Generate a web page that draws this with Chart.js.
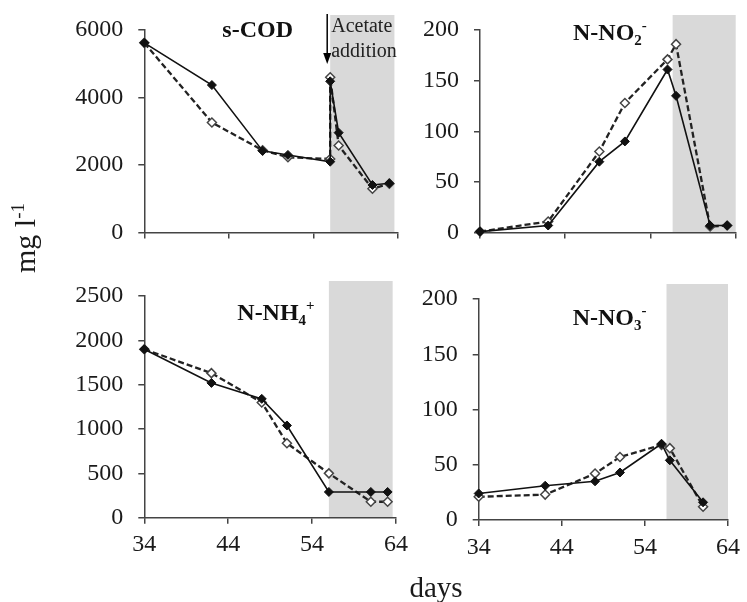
<!DOCTYPE html>
<html>
<head>
<meta charset="utf-8">
<script src="https://cdn.jsdelivr.net/npm/chart.js@4"></script>
<style>
  body { margin: 0; background: #fff; }
  #wrap { position: relative; width: 747px; height: 602px; background: #fff; overflow: hidden; }
  canvas { position: absolute; }
  .lab { position: absolute; font-family: 'Liberation Serif', 'Times New Roman', serif; color: #1a1a1a; white-space: nowrap; }
  #ylab { left: 25px; top: 238px; font-size: 30px; line-height: 30px; transform: translate(-50%, -50%) rotate(-90deg); }
  #ylab sup { font-size: 19px; vertical-align: 11px; line-height: 0; }
  #xlab { left: 436px; top: 573px; font-size: 29px; line-height: 29px; transform: translateX(-50%); }
</style>
</head>
<body>
<div id="wrap">
  <canvas id="cod" width="415" height="262" style="left:0;top:0"></canvas>
  <canvas id="no2" width="337" height="262" style="left:410px;top:0"></canvas>
  <canvas id="nh4" width="415" height="340" style="left:0;top:262px"></canvas>
  <canvas id="no3" width="337" height="340" style="left:410px;top:262px"></canvas>
  <div class="lab" id="ylab">mg l<sup>-1</sup></div>
  <div class="lab" id="xlab">days</div>
</div>
<script>
// x axis (days)
const xTicks = [34, 44, 54, 64];

// s-COD (acetate added on day 56 -> two points that day)
const codDays = [34, 42, 48, 51, 56, 56, 57, 61, 63];
const codSolid = [5620, 4370, 2420, 2300, 2100, 4480, 2960, 1410, 1460];
const codOpen = [5620, 3260, 2440, 2230, 2180, 4600, 2580, 1300, 1450];
const codTicks = [0, 2000, 4000, 6000];

// N-NO2-
const no2Days = [34, 42, 48, 51, 56, 57, 61, 63];
const no2Solid = [1, 7, 70, 90, 161, 135, 7, 7];
const no2Open = [1, 11, 80, 128, 171, 186, 6, 7];
const no2Ticks = [0, 50, 100, 150, 200];

// N-NH4+
const nh4Days = [34, 42, 48, 51, 56, 61, 63];
const nh4Solid = [1900, 1520, 1340, 1040, 290, 290, 290];
const nh4Open = [1900, 1630, 1300, 840, 500, 180, 180];
const nh4Ticks = [0, 500, 1000, 1500, 2000, 2500];

// N-NO3-
const no3Days = [34, 42, 48, 51, 56, 57, 61];
const no3Solid = [24, 31, 35, 43, 69, 54, 16];
const no3Open = [21, 23, 42, 57, 68, 65, 12];
const no3Ticks = [0, 50, 100, 150, 200];

// grey band (days)
const shadeLeft = [56, 63.6];
const shadeRight = [56.6, 64];

Chart.defaults.font.family = "'Liberation Serif', 'Times New Roman', serif";
Chart.defaults.color = '#1a1a1a';

const panelDeco = {
  id: 'panelDeco',
  beforeDraw(chart, args, o) {
    const ctx = chart.ctx, a = chart.chartArea, x = chart.scales.x;
    const x0 = x.getPixelForValue(o.shade[0]);
    const x1 = x.getPixelForValue(o.shade[1]);
    ctx.save();
    ctx.fillStyle = '#d9d9d9';
    ctx.fillRect(x0, a.top - 15, x1 - x0, a.bottom - a.top + 15);
    ctx.restore();
  },
  afterDraw(chart, args, o) {
    const ctx = chart.ctx, a = chart.chartArea, x = chart.scales.x;
    ctx.save();
    ctx.fillStyle = '#111';
    ctx.textBaseline = 'alphabetic';
    let tx = a.left + o.dx, ty = a.top + o.dy;
    o.title.forEach(function(p) {
      ctx.font = p[1] ? "bold 15px 'Liberation Serif', serif" : "bold 24px 'Liberation Serif', serif";
      const yy = p[1] === 1 ? ty + 5 : p[1] === -1 ? ty - 10 : ty;
      ctx.fillText(p[0], tx, yy);
      tx += ctx.measureText(p[0]).width;
    });
    if (o.note) {
      const xa = x.getPixelForValue(56);
      ctx.strokeStyle = '#000';
      ctx.lineWidth = 1.5;
      ctx.beginPath();
      ctx.moveTo(xa - 3, a.top - 16);
      ctx.lineTo(xa - 3, a.top + 26);
      ctx.stroke();
      ctx.beginPath();
      ctx.moveTo(xa - 3, a.top + 34);
      ctx.lineTo(xa - 7, a.top + 23);
      ctx.lineTo(xa + 1, a.top + 23);
      ctx.closePath();
      ctx.fillStyle = '#000';
      ctx.fill();
      ctx.fillStyle = '#222';
      ctx.font = "20px 'Liberation Serif', serif";
      ctx.fillText('Acetate', xa + 1, a.top + 2);
      ctx.fillText('addition', xa + 1, a.top + 27);
    }
    ctx.restore();
  }
};

function pts(days, vals) {
  return days.map(function(d, i) { return {x: d, y: vals[i]}; });
}

function plain(v) { return String(v); }

function panel(id, c) {
  return new Chart(document.getElementById(id), {
    type: 'line',
    data: {
      datasets: [{
        data: pts(c.days, c.solid),
        borderColor: '#111',
        borderWidth: 1.6,
        pointStyle: 'rectRot',
        pointRadius: 4.5,
        pointBackgroundColor: '#111',
        pointBorderColor: '#111',
        pointBorderWidth: 1,
        tension: 0,
        clip: false
      }, {
        data: pts(c.days, c.open),
        borderColor: '#222',
        borderWidth: 2.3,
        borderDash: [6, 3],
        pointStyle: 'rectRot',
        pointRadius: 4.5,
        pointBackgroundColor: '#fff',
        pointBorderColor: '#444',
        pointBorderWidth: 1.5,
        tension: 0,
        clip: false
      }]
    },
    options: {
      responsive: false,
      animation: false,
      devicePixelRatio: 1,
      layout: { padding: { top: c.top, right: c.right, left: 0, bottom: 0 } },
      plugins: {
        legend: { display: false },
        tooltip: { enabled: false },
        panelDeco: { shade: c.shade, title: c.title, dx: c.dx, dy: c.dy, note: c.note }
      },
      scales: {
        x: {
          type: 'linear',
          min: 34,
          max: 64,
          afterBuildTicks: function(s) { s.ticks = xTicks.map(function(v) { return {value: v}; }); },
          afterFit: function(s) { s.height = c.xh; },
          ticks: { display: c.labels, font: { size: 24 }, padding: 7, callback: plain },
          grid: { drawOnChartArea: false, drawTicks: true, tickLength: 6, color: '#444', lineWidth: 1.5 },
          border: { display: true, color: '#444', width: 1.5 }
        },
        y: {
          min: 0,
          max: c.yTicks[c.yTicks.length - 1],
          afterBuildTicks: function(s) { s.ticks = c.yTicks.map(function(v) { return {value: v}; }); },
          afterFit: function(s) { s.width = c.yw; },
          ticks: { font: { size: 24 }, padding: 15, callback: plain },
          grid: { drawOnChartArea: false, drawTicks: true, tickLength: 6, color: '#444', lineWidth: 1.5 },
          border: { display: true, color: '#444', width: 1.5 }
        }
      }
    },
    plugins: [panelDeco]
  });
}

panel('cod', {
  days: codDays, solid: codSolid, open: codOpen, yTicks: codTicks, shade: shadeLeft,
  title: [['s-COD', 0]], dx: 78, dy: 7, note: true,
  top: 30, right: 17.2, yw: 144.3, xh: 11, labels: false
});
panel('no2', {
  days: no2Days, solid: no2Solid, open: no2Open, yTicks: no2Ticks, shade: shadeRight,
  title: [['N-NO', 0], ['2', 1], ['-', -1]], dx: 93, dy: 10, note: false,
  top: 30, right: 11.3, yw: 70, xh: 11, labels: false
});
panel('nh4', {
  days: nh4Days, solid: nh4Solid, open: nh4Open, yTicks: nh4Ticks, shade: shadeLeft,
  title: [['N-NH', 0], ['4', 1], ['+', -1]], dx: 93, dy: 24, note: false,
  top: 34, right: 17.2, yw: 144.3, xh: 84.3, labels: true
});
panel('no3', {
  days: no3Days, solid: no3Solid, open: no3Open, yTicks: no3Ticks, shade: shadeRight,
  title: [['N-NO', 0], ['3', 1], ['-', -1]], dx: 94, dy: 26, note: false,
  top: 37, right: 12.7, yw: 68.7, xh: 82, labels: true
});
</script>
</body>
</html>
